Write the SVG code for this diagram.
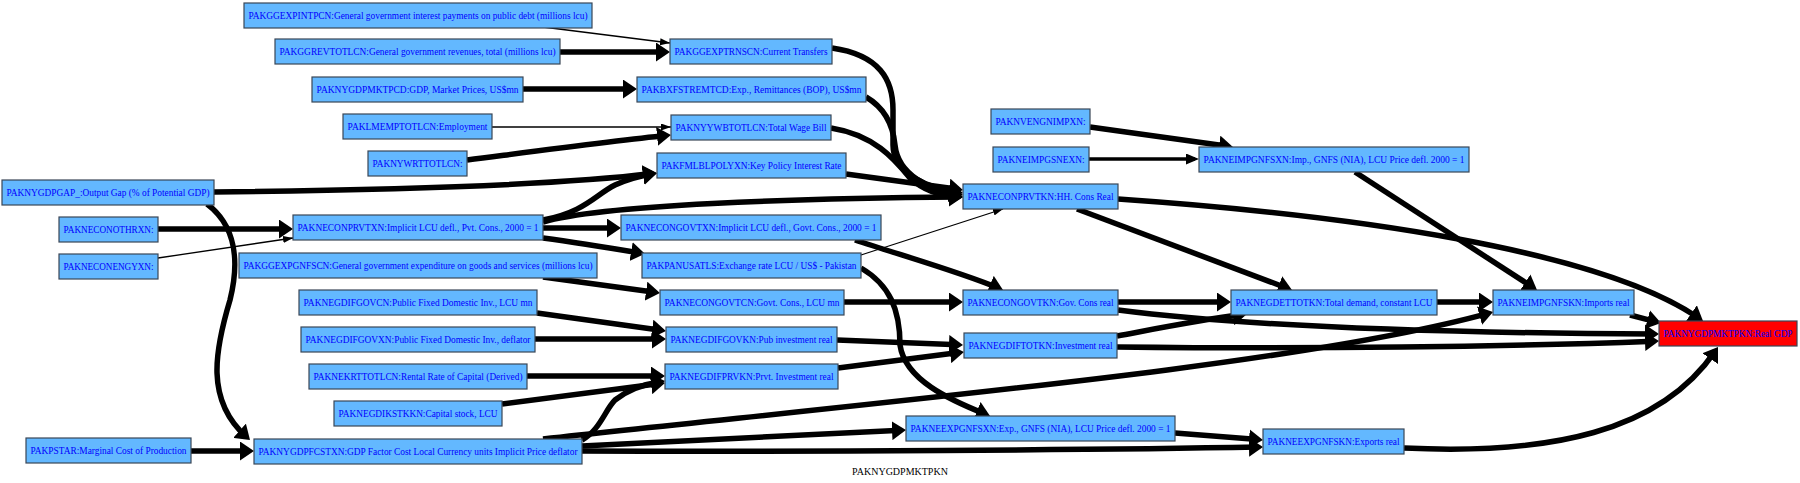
<svg xmlns="http://www.w3.org/2000/svg" width="1800" height="483" viewBox="0 0 1800 483">
<style>
.node rect{fill:#63b8ff;stroke:#3a4656;stroke-width:1.2}
.node.red rect{fill:#ff0000}
.node text{font-family:"Liberation Serif",serif;font-size:10px;fill:#0000ff;text-anchor:middle}
.edges path{fill:none;stroke:#000;stroke-width:5.5}
.edges path.m{stroke-width:3.5}
.edges path.t{stroke-width:1.3}
.lbl{font-family:"Liberation Serif",serif;font-size:10px;fill:#000;text-anchor:middle}
</style>
<defs>
<marker id="ah" markerUnits="userSpaceOnUse" markerWidth="14" markerHeight="19" refX="9" refY="9.5" orient="auto"><path d="M0,0 L14,9.5 L0,19 z" fill="#000"/></marker>
<marker id="am" markerUnits="userSpaceOnUse" markerWidth="13" markerHeight="11" refX="9" refY="5.5" orient="auto"><path d="M0,0 L13,5.5 L0,11 z" fill="#000"/></marker>
<marker id="at" markerUnits="userSpaceOnUse" markerWidth="10" markerHeight="7" refX="10" refY="3.5" orient="auto"><path d="M0,0 L10,3.5 L0,7 z" fill="#000"/></marker>
</defs>
<rect width="1800" height="483" fill="#fff"/>
<g class="edges">
<path class="t" marker-end="url(#at)" d="M543,27 L670,43"/>
<path marker-end="url(#ah)" d="M560,52 L665,52"/>
<path marker-end="url(#ah)" d="M523,89 L632,89"/>
<path class="t" marker-end="url(#at)" d="M492,127 L671,127"/>
<path marker-end="url(#ah)" d="M467,160 C560,148 620,140 666,135.5"/>
<path marker-end="url(#ah)" d="M214,192 C400,190 560,185 652,173.6"/>
<path marker-end="url(#ah)" d="M207,204 C235,225 240,260 230,300 C215,350 205,400 246.3,436.7"/>
<path marker-end="url(#ah)" d="M158,229 L288,229"/>
<path class="t" marker-end="url(#at)" d="M158,258 L293,238"/>
<path marker-end="url(#ah)" d="M543,220 C585,212 595,195 615,185 C630,178 640,176 652,174"/>
<path marker-end="url(#ah)" d="M543,222 C600,205 800,198 958,197"/>
<path marker-end="url(#ah)" d="M543,228 L616,228"/>
<path marker-end="url(#ah)" d="M543,238 C580,243 610,248 640,253"/>
<path marker-end="url(#ah)" d="M543,277 L655,292.3"/>
<path marker-end="url(#ah)" d="M537,313 L661,330.3"/>
<path marker-end="url(#ah)" d="M535,339 L661,339"/>
<path marker-end="url(#ah)" d="M527,376 L660,376"/>
<path marker-end="url(#ah)" d="M502,404 L660,383.6"/>
<path marker-end="url(#ah)" d="M582,440 C600,430 605,410 615,400 C630,388 645,384 660,381.7"/>
<path marker-end="url(#ah)" d="M543,439 C900,400 1300,365 1488.2,313.3"/>
<path marker-end="url(#ah)" d="M582,446 L901,430.2"/>
<path marker-end="url(#ah)" d="M582,451 C800,452 1100,450 1258,447.1"/>
<path marker-end="url(#ah)" d="M191,451 L249,451"/>
<path marker-end="url(#ah)" d="M832,48 C880,55 893,80 893,110 L893,145 C893,175 930,188 958,192.2"/>
<path marker-end="url(#ah)" d="M866,97 C885,108 893,125 895,145 C898,175 930,190 958,194.2"/>
<path marker-end="url(#ah)" d="M831,128 C875,135 895,160 910,178 C925,192 945,196 958,196.7"/>
<path marker-end="url(#ah)" d="M846,174 L958,189.3"/>
<path class="t" marker-end="url(#at)" d="M861,255 L1003,209"/>
<path marker-end="url(#ah)" d="M855,240 C900,255 960,272 998.4,288.1"/>
<path marker-end="url(#ah)" d="M844,302 L958,302"/>
<path marker-end="url(#ah)" d="M861,268 C890,285 900,310 900,345 C905,380 950,400 985.4,414.1"/>
<path marker-end="url(#ah)" d="M837,340 L958,344.8"/>
<path marker-end="url(#ah)" d="M838,368 L959,352.6"/>
<path marker-end="url(#ah)" d="M1090,127 L1228,146.3"/>
<path class="m" marker-end="url(#am)" d="M1089,159 L1195,159"/>
<path marker-end="url(#ah)" d="M1118,199 C1350,215 1600,250 1698.9,318.2"/>
<path marker-end="url(#ah)" d="M1077,209 L1287.3,288.2"/>
<path marker-end="url(#ah)" d="M1355,172 L1532.8,287.3"/>
<path marker-end="url(#ah)" d="M1118,302 L1226,302"/>
<path marker-end="url(#ah)" d="M1118,310 C1250,327 1450,333 1654,334"/>
<path marker-end="url(#ah)" d="M1117,336 C1160,328 1200,320 1242,314.6"/>
<path marker-end="url(#ah)" d="M1117,347 C1300,349 1500,347 1654,341.2"/>
<path marker-end="url(#ah)" d="M1175,433 L1258,439.6"/>
<path marker-end="url(#ah)" d="M1437,302 L1488,302"/>
<path marker-end="url(#ah)" d="M1630,315 L1656.2,321.8"/>
<path marker-end="url(#ah)" d="M1404,448 C1550,455 1660,432 1715.2,351.1"/>
</g>
<g id="PAKGGEXPINTPCN" class="node"><rect x="244" y="3" width="348" height="25"/><text x="418" y="19" textLength="339" lengthAdjust="spacingAndGlyphs">PAKGGEXPINTPCN:General government interest payments on public debt (millions lcu)</text></g>
<g id="PAKGGREVTOTLCN" class="node"><rect x="275" y="39" width="285" height="25"/><text x="417.5" y="55" textLength="276" lengthAdjust="spacingAndGlyphs">PAKGGREVTOTLCN:General government revenues, total (millions lcu)</text></g>
<g id="PAKNYGDPMKTPCD" class="node"><rect x="312" y="77" width="211" height="25"/><text x="417.5" y="93" textLength="202" lengthAdjust="spacingAndGlyphs">PAKNYGDPMKTPCD:GDP, Market Prices, US$mn</text></g>
<g id="PAKLMEMPTOTLCN" class="node"><rect x="343" y="114" width="149" height="25"/><text x="417.5" y="130" textLength="140" lengthAdjust="spacingAndGlyphs">PAKLMEMPTOTLCN:Employment</text></g>
<g id="PAKNYWRTTOTLCN" class="node"><rect x="368" y="151" width="99" height="25"/><text x="417.5" y="167" textLength="90" lengthAdjust="spacingAndGlyphs">PAKNYWRTTOTLCN:</text></g>
<g id="PAKNYGDPGAP_" class="node"><rect x="2" y="180" width="212" height="25"/><text x="108" y="196" textLength="203" lengthAdjust="spacingAndGlyphs">PAKNYGDPGAP_:Output Gap (% of Potential GDP)</text></g>
<g id="PAKNECONOTHRXN" class="node"><rect x="59" y="217" width="99" height="25"/><text x="108.5" y="233" textLength="90" lengthAdjust="spacingAndGlyphs">PAKNECONOTHRXN:</text></g>
<g id="PAKNECONENGYXN" class="node"><rect x="59" y="254" width="99" height="25"/><text x="108.5" y="270" textLength="90" lengthAdjust="spacingAndGlyphs">PAKNECONENGYXN:</text></g>
<g id="PAKPSTAR" class="node"><rect x="26" y="438" width="165" height="25"/><text x="108.5" y="454" textLength="156" lengthAdjust="spacingAndGlyphs">PAKPSTAR:Marginal Cost of Production</text></g>
<g id="PAKNECONPRVTXN" class="node"><rect x="293" y="215" width="250" height="25"/><text x="418" y="231" textLength="241" lengthAdjust="spacingAndGlyphs">PAKNECONPRVTXN:Implicit LCU defl., Pvt. Cons., 2000 = 1</text></g>
<g id="PAKGGEXPGNFSCN" class="node"><rect x="239" y="253" width="358" height="25"/><text x="418" y="269" textLength="349" lengthAdjust="spacingAndGlyphs">PAKGGEXPGNFSCN:General government expenditure on goods and services (millions lcu)</text></g>
<g id="PAKNEGDIFGOVCN" class="node"><rect x="299" y="290" width="238" height="25"/><text x="418" y="306" textLength="229" lengthAdjust="spacingAndGlyphs">PAKNEGDIFGOVCN:Public Fixed Domestic Inv., LCU mn</text></g>
<g id="PAKNEGDIFGOVXN" class="node"><rect x="301" y="327" width="234" height="25"/><text x="418" y="343" textLength="225" lengthAdjust="spacingAndGlyphs">PAKNEGDIFGOVXN:Public Fixed Domestic Inv., deflator</text></g>
<g id="PAKNEKRTTOTLCN" class="node"><rect x="309" y="364" width="218" height="25"/><text x="418" y="380" textLength="209" lengthAdjust="spacingAndGlyphs">PAKNEKRTTOTLCN:Rental Rate of Capital (Derived)</text></g>
<g id="PAKNEGDIKSTKKN" class="node"><rect x="334" y="401" width="168" height="25"/><text x="418" y="417" textLength="159" lengthAdjust="spacingAndGlyphs">PAKNEGDIKSTKKN:Capital stock, LCU</text></g>
<g id="PAKNYGDPFCSTXN" class="node"><rect x="254" y="439" width="328" height="25"/><text x="418" y="455" textLength="319" lengthAdjust="spacingAndGlyphs">PAKNYGDPFCSTXN:GDP Factor Cost Local Currency units Implicit Price deflator</text></g>
<g id="PAKGGEXPTRNSCN" class="node"><rect x="670" y="39" width="162" height="25"/><text x="751" y="55" textLength="153" lengthAdjust="spacingAndGlyphs">PAKGGEXPTRNSCN:Current Transfers</text></g>
<g id="PAKBXFSTREMTCD" class="node"><rect x="637" y="77" width="229" height="25"/><text x="751.5" y="93" textLength="220" lengthAdjust="spacingAndGlyphs">PAKBXFSTREMTCD:Exp., Remittances (BOP), US$mn</text></g>
<g id="PAKNYYWBTOTLCN" class="node"><rect x="671" y="115" width="160" height="25"/><text x="751" y="131" textLength="151" lengthAdjust="spacingAndGlyphs">PAKNYYWBTOTLCN:Total Wage Bill</text></g>
<g id="PAKFMLBLPOLYXN" class="node"><rect x="657" y="153" width="189" height="25"/><text x="751.5" y="169" textLength="180" lengthAdjust="spacingAndGlyphs">PAKFMLBLPOLYXN:Key Policy Interest Rate</text></g>
<g id="PAKNECONGOVTXN" class="node"><rect x="621" y="215" width="260" height="25"/><text x="751" y="231" textLength="251" lengthAdjust="spacingAndGlyphs">PAKNECONGOVTXN:Implicit LCU defl., Govt. Cons., 2000 = 1</text></g>
<g id="PAKPANUSATLS" class="node"><rect x="642" y="253" width="219" height="25"/><text x="751.5" y="269" textLength="210" lengthAdjust="spacingAndGlyphs">PAKPANUSATLS:Exchange rate LCU / US$ - Pakistan</text></g>
<g id="PAKNECONGOVTCN" class="node"><rect x="660" y="290" width="184" height="25"/><text x="752" y="306" textLength="175" lengthAdjust="spacingAndGlyphs">PAKNECONGOVTCN:Govt. Cons., LCU mn</text></g>
<g id="PAKNEGDIFGOVKN" class="node"><rect x="666" y="327" width="171" height="25"/><text x="751.5" y="343" textLength="162" lengthAdjust="spacingAndGlyphs">PAKNEGDIFGOVKN:Pub investment real</text></g>
<g id="PAKNEGDIFPRVKN" class="node"><rect x="665" y="364" width="173" height="25"/><text x="751.5" y="380" textLength="164" lengthAdjust="spacingAndGlyphs">PAKNEGDIFPRVKN:Prvt. Investment real</text></g>
<g id="PAKNVENGNIMPXN" class="node"><rect x="991" y="109" width="99" height="25"/><text x="1040.5" y="125" textLength="90" lengthAdjust="spacingAndGlyphs">PAKNVENGNIMPXN:</text></g>
<g id="PAKNEIMPGSNEXN" class="node"><rect x="993" y="147" width="96" height="25"/><text x="1041" y="163" textLength="87" lengthAdjust="spacingAndGlyphs">PAKNEIMPGSNEXN:</text></g>
<g id="PAKNECONPRVTKN" class="node"><rect x="963" y="184" width="155" height="25"/><text x="1040.5" y="200" textLength="146" lengthAdjust="spacingAndGlyphs">PAKNECONPRVTKN:HH. Cons Real</text></g>
<g id="PAKNECONGOVTKN" class="node"><rect x="963" y="290" width="155" height="25"/><text x="1040.5" y="306" textLength="146" lengthAdjust="spacingAndGlyphs">PAKNECONGOVTKN:Gov. Cons real</text></g>
<g id="PAKNEGDIFTOTKN" class="node"><rect x="964" y="333" width="153" height="25"/><text x="1040.5" y="349" textLength="144" lengthAdjust="spacingAndGlyphs">PAKNEGDIFTOTKN:Investment real</text></g>
<g id="PAKNEEXPGNFSXN" class="node"><rect x="906" y="416" width="269" height="25"/><text x="1040.5" y="432" textLength="260" lengthAdjust="spacingAndGlyphs">PAKNEEXPGNFSXN:Exp., GNFS (NIA), LCU Price defl. 2000 = 1</text></g>
<g id="PAKNEIMPGNFSXN" class="node"><rect x="1199" y="147" width="270" height="25"/><text x="1334" y="163" textLength="261" lengthAdjust="spacingAndGlyphs">PAKNEIMPGNFSXN:Imp., GNFS (NIA), LCU Price defl. 2000 = 1</text></g>
<g id="PAKNEGDETTOTKN" class="node"><rect x="1231" y="290" width="206" height="25"/><text x="1334" y="306" textLength="197" lengthAdjust="spacingAndGlyphs">PAKNEGDETTOTKN:Total demand, constant LCU</text></g>
<g id="PAKNEEXPGNFSKN" class="node"><rect x="1263" y="429" width="141" height="25"/><text x="1333.5" y="445" textLength="132" lengthAdjust="spacingAndGlyphs">PAKNEEXPGNFSKN:Exports real</text></g>
<g id="PAKNEIMPGNFSKN" class="node"><rect x="1493" y="290" width="141" height="25"/><text x="1563.5" y="306" textLength="132" lengthAdjust="spacingAndGlyphs">PAKNEIMPGNFSKN:Imports real</text></g>
<g id="PAKNYGDPMKTPKN" class="node red"><rect x="1659" y="321" width="138" height="25"/><text x="1728" y="337" textLength="129" lengthAdjust="spacingAndGlyphs">PAKNYGDPMKTPKN:Real GDP</text></g>
<text class="lbl" x="900" y="475">PAKNYGDPMKTPKN</text>
</svg>
